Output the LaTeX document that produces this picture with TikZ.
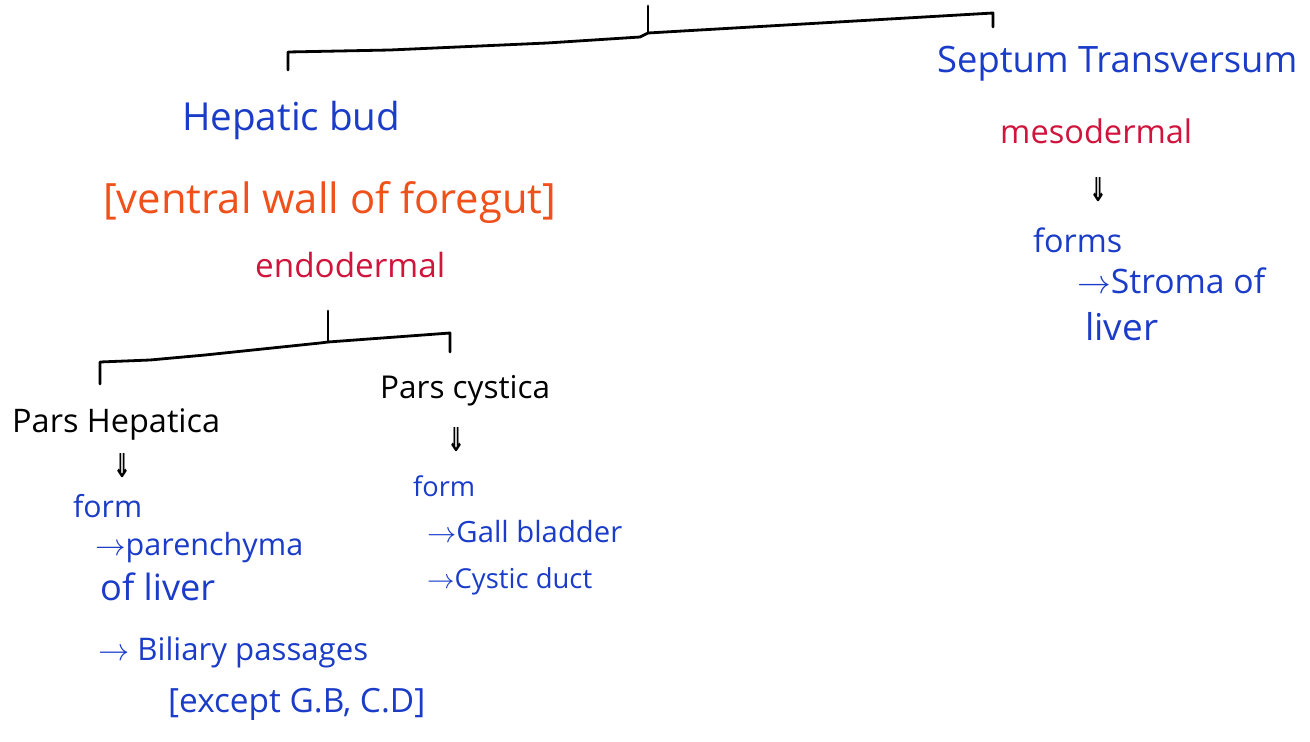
\documentclass[tikz,border=0pt]{standalone}
\usepackage{fontspec}
\setmainfont{Open Sans}
\newfontfamily\arrowfont{DejaVu Sans}
\usepackage{graphicx}
\definecolor{pen}{HTML}{1A3CC8}
\definecolor{redpen}{HTML}{D0143C}
\definecolor{orangepen}{HTML}{F0501A}
\newcommand{\fitw}[2]{\resizebox{#1pt}{!}{#2}}
\newcommand{\dnarrow}{\resizebox{18pt}{24pt}{\arrowfont\bfseries ⇓}}
\begin{document}
\begin{tikzpicture}[x=1pt,y=-1pt,
  lbl/.style={inner sep=0pt, anchor=base west},
  bluetxt/.style={lbl, text=pen},
  redtxt/.style={lbl, text=redpen},
  orangetxt/.style={lbl, text=orangepen},
  blacktxt/.style={lbl, text=black},
  downarrow/.style={inner sep=0pt, anchor=center, text=black},
  bracket/.style={draw=black, line width=2.8pt, line join=round, line cap=round}]
\useasboundingbox (0,0) rectangle (1310,742);
\fill[white] (0,0) rectangle (1310,742);

% top-level split
\coordinate (topstem) at (648,6);
\coordinate (topjoin) at (648,33);
\coordinate (topleft) at (288,52);
\coordinate (topleftend) at (288,70);
\coordinate (topright) at (993,13);
\coordinate (toprightend) at (993,27);
\draw[bracket] (topstem) -- (topjoin);
\draw[bracket] (topleftend) -- (topleft) -- (390,50) -- (547,43) -- (640,37) -- (topjoin) -- (topright) -- (toprightend);

% right branch: septum transversum
\node[bluetxt] (septum) at (937,72) {\fitw{360}{Septum Transversum}};
\node[redtxt] (meso) at (1000,143) {\fitw{192}{mesodermal}};
\node[downarrow] (arrST) at (1098,190) {\dnarrow};
\node[bluetxt] (forms) at (1033,252) {\fitw{89}{forms}};
\node[bluetxt] (stroma) at (1077,293) {\fitw{188}{$\rightarrow$Stroma of}};
\node[bluetxt] (liverST) at (1085,340) {\fitw{73}{liver}};

% left branch: hepatic bud
\node[bluetxt] (bud) at (182,130) {\fitw{218}{Hepatic bud}};
\node[orangetxt] (ventral) at (103,213) {\fitw{453}{[ventral wall of foregut]}};
\node[redtxt] (endo) at (255,277) {\fitw{190}{endodermal}};

% hepatic bud split
\coordinate (budstem) at (328,311);
\coordinate (budjoin) at (328,342);
\coordinate (budleft) at (100,362);
\coordinate (budleftend) at (100,384);
\coordinate (budright) at (450,333);
\coordinate (budrightend) at (450,352);
\draw[bracket] (budstem) -- (budjoin);
\draw[bracket] (budleftend) -- (budleft) -- (150,360) -- (205,355) -- (320,343) -- (budjoin) -- (budright) -- (budrightend);

% pars hepatica
\node[blacktxt] (hepatica) at (12,432) {\fitw{208}{Pars Hepatica}};
\node[downarrow] (arrPH) at (122,466) {\dnarrow};
\node[bluetxt] (formPH) at (73,517) {\fitw{69}{form}};
\node[bluetxt] (paren) at (95,555) {\fitw{208}{$\rightarrow$parenchyma}};
\node[bluetxt] (ofliver) at (100,600) {\fitw{115}{of liver}};
\node[bluetxt] (biliary) at (98,660) {\fitw{270}{$\rightarrow$ Biliary passages}};
\node[bluetxt] (except) at (168,712) {\fitw{257}{[except G.B, C.D]}};

% pars cystica
\node[blacktxt] (cystica) at (380,398) {\fitw{170}{Pars cystica}};
\node[downarrow] (arrPC) at (456,440) {\dnarrow};
\node[bluetxt] (formPC) at (413,496) {\fitw{62}{form}};
\node[bluetxt] (gall) at (427,542) {\fitw{195}{$\rightarrow$Gall bladder}};
\node[bluetxt] (duct) at (427,588) {\fitw{165}{$\rightarrow$Cystic duct}};
\end{tikzpicture}
\end{document}
